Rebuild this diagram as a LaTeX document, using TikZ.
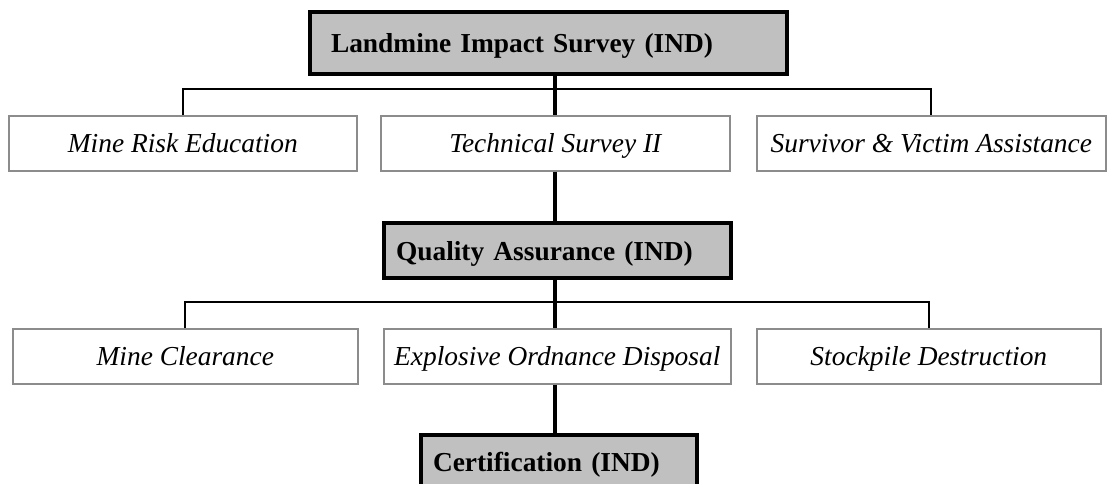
\documentclass[tikz,border=0pt]{standalone}
\usepackage{fontspec}
\setmainfont{Liberation Serif}
\definecolor{headgray}{HTML}{C0C0C0}
\definecolor{taskgray}{HTML}{8C8C8C}
\begin{document}
\begin{tikzpicture}[
				x=1pt, y=-1pt,
				every node/.style={anchor=north west, text height=22, text depth=3,
					font=\fontsize{27.4}{32}\selectfont},
				head/.style={draw, line width=4pt, fill=headgray, align=left, inner ysep=0,
					font=\fontsize{27.4}{32}\selectfont\bfseries},
				task/.style={draw=taskgray, line width=1.6pt, inner sep=0, minimum height=55,
					font=\fontsize{27.4}{32}\selectfont\itshape},
				trunk/.style={line width=4pt},
				branch/.style={line width=2pt},
			]
			\useasboundingbox (0,0) rectangle (1107,483);
			% top of the chart
			\node[head, inner xsep=21, text width=435, minimum height=62] (lis) at (308,10) {Landmine Impact Survey (IND)};
			\node[task, minimum width=348] (mre) at (8,115) {Mine Risk Education};
			\node[task, minimum width=349] (ts) at (380,115) {Technical Survey II};
			\node[task, minimum width=349] (sva) at (756,115) {Survivor \& Victim Assistance};
			% middle
			\node[head, inner xsep=12, text width=323, minimum height=55] (qa) at (382,221) {Quality Assurance (IND)};
			\node[task, minimum width=345] (mc) at (12,328) {Mine Clearance};
			\node[task, minimum width=347] (eod) at (383,328) {Explosive Ordnance Disposal};
			\node[task, minimum width=344] (sd) at (756,328) {Stockpile Destruction};
			% bottom
			\node[head, inner xsep=12, text width=252, minimum height=54] (cert) at (419,433) {Certification (IND)};
			\coordinate (bar1) at (555,89);
			\coordinate (bar2) at (556,302);
			\draw[branch] (mre.north) |- (bar1) -| (sva.north);
			\draw[branch] (mc.north) |- (bar2) -| (sd.north);
			\draw[trunk] (lis.south -| ts.north) -- (ts.north);
			\draw[trunk] (ts.south) -- (qa.north -| ts.south);
			\draw[trunk] (qa.south -| ts.south) -- (eod.north -| ts.south);
			\draw[trunk] (eod.south -| ts.south) -- (cert.north -| ts.south);
			\end{tikzpicture}
\end{document}
